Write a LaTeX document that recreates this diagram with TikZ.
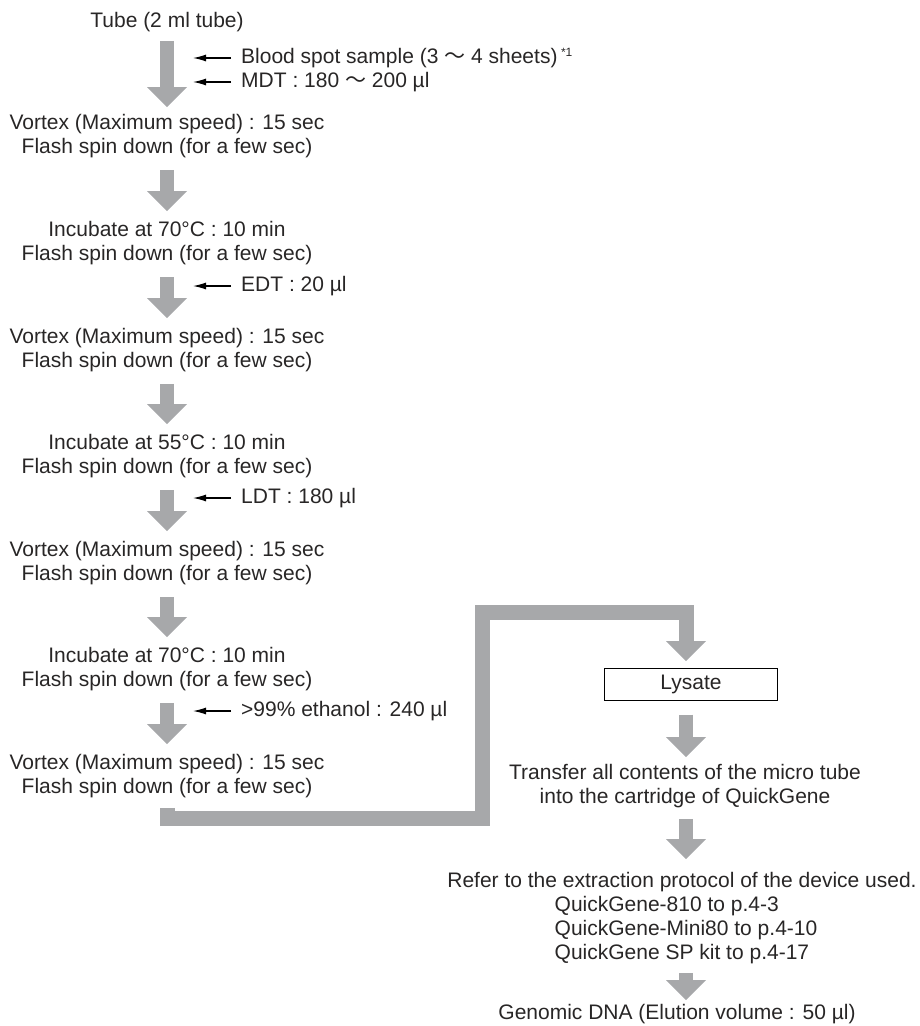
\documentclass[tikz,border=0pt]{standalone}
\usepackage{fontspec}
\setmainfont{Liberation Sans}
\newfontfamily\cjk{Noto Sans CJK JP}
\usetikzlibrary{arrows.meta}
\definecolor{pipegray}{RGB}{167,168,170}
\definecolor{txt}{RGB}{40,38,38}
\begin{document}
\begin{tikzpicture}[x=1pt,y=-1pt,
  every node/.style={font=\fontsize{21}{24}\selectfont, text=txt, inner sep=0pt},
  stepnode/.style={align=center},
  sidelabel/.style={anchor=west, text height=14pt, text depth=4pt},
  bigarrow/.style={draw=pipegray, line width=14.5pt,
    -{Triangle[width=40pt,length=20pt,line width=0pt]}},
  pipe/.style={draw=pipegray, line width=15pt, line join=miter,
    -{Triangle[width=40pt,length=20pt,line width=0pt]}},
  sidearrow/.style={draw=black, line width=1.2pt, -{Latex[length=13pt,width=7pt]}},
  boxnode/.style={draw=black, line width=1pt, minimum width=173pt, minimum height=32pt}
]
\useasboundingbox (0,0) rectangle (920,1026);
\coordinate (tipcol) at (193,0);

% left column
\node[stepnode] (tube) at (167,22) {Tube (2 ml tube)};
\node[stepnode] (v1) at (167,136) {Vortex (Maximum speed) : 15 sec\\Flash spin down (for a few sec)};
\node[stepnode] (i1) at (167,243) {Incubate at 70°C : 10 min\\Flash spin down (for a few sec)};
\node[stepnode] (v2) at (167,350) {Vortex (Maximum speed) : 15 sec\\Flash spin down (for a few sec)};
\node[stepnode] (i2) at (167,456) {Incubate at 55°C : 10 min\\Flash spin down (for a few sec)};
\node[stepnode] (v3) at (167,563) {Vortex (Maximum speed) : 15 sec\\Flash spin down (for a few sec)};
\node[stepnode] (i3) at (167,669) {Incubate at 70°C : 10 min\\Flash spin down (for a few sec)};
\node[stepnode] (v4) at (167,776) {Vortex (Maximum speed) : 15 sec\\Flash spin down (for a few sec)};

% side labels
\node[sidelabel] (blood) at (241,58) {Blood spot sample (3 {\cjk ～} 4 sheets)\,\raisebox{7pt}{\fontsize{12}{12}\selectfont *1}};
\node[sidelabel] (mdt) at (241,82) {MDT : 180 {\cjk ～} 200 µl};
\node[sidelabel] (edt) at (241,286) {EDT : 20 µl};
\node[sidelabel] (ldt) at (241,498) {LDT : 180 µl};
\node[sidelabel] (eth) at (241,711) {>99\% ethanol : 240 µl};

% right column
\node[boxnode] (lys) at (691,684) {Lysate};
\node[stepnode] (tr) at (685,786) {Transfer all contents of the micro tube\\into the cartridge of QuickGene};
\node[stepnode] (ref) at (682,882) {Refer to the extraction protocol of the device used.};
\node[align=left] (qg) at (686,930) {QuickGene-810 to p.4-3\\QuickGene-Mini80 to p.4-10\\QuickGene SP kit to p.4-17};
\node[stepnode] (gdna) at (677,1014) {Genomic DNA (Elution volume : 50 µl)};

% big arrows
\draw[bigarrow, shorten <=9pt, shorten >=7pt] (tube.south) -- (v1.north);
\draw[bigarrow, shorten <=12pt, shorten >=10pt] (v1.south) -- (i1.north);
\draw[bigarrow, shorten <=12pt, shorten >=10pt] (i1.south) -- (v2.north);
\draw[bigarrow, shorten <=12pt, shorten >=10pt] (v2.south) -- (i2.north);
\draw[bigarrow, shorten <=12pt, shorten >=10pt] (i2.south) -- (v3.north);
\draw[bigarrow, shorten <=12pt, shorten >=10pt] (v3.south) -- (i3.north);
\draw[bigarrow, shorten <=12pt, shorten >=10pt] (i3.south) -- (v4.north);

% side arrows
\draw[sidearrow] ([xshift=-10pt]blood.west) -- (blood.west -| tipcol);
\draw[sidearrow] ([xshift=-10pt]mdt.west) -- (mdt.west -| tipcol);
\draw[sidearrow] ([xshift=-10pt]edt.west) -- (edt.west -| tipcol);
\draw[sidearrow] ([xshift=-10pt]ldt.west) -- (ldt.west -| tipcol);
\draw[sidearrow] ([xshift=-10pt]eth.west) -- (eth.west -| tipcol);

% pipe
\coordinate (pb) at (482.5,818.5);
\coordinate (pt) at (482.5,612.5);
\coordinate (pend) at (686,661);
\draw[pipe] ([yshift=-10pt]v4.south) |- (pb) -- (pt) -| (pend);

% right column arrows
\coordinate (rc) at (686,0);
\draw[bigarrow, shorten <=14pt, shorten >=7pt] (lys.south -| rc) -- (tr.north -| rc);
\draw[bigarrow, shorten <=11pt, shorten >=13pt] (tr.south -| rc) -- (ref.north -| rc);
\draw[bigarrow, shorten <=9pt, shorten >=4pt] (qg.south -| rc) -- (gdna.north -| rc);
\end{tikzpicture}
\end{document}
